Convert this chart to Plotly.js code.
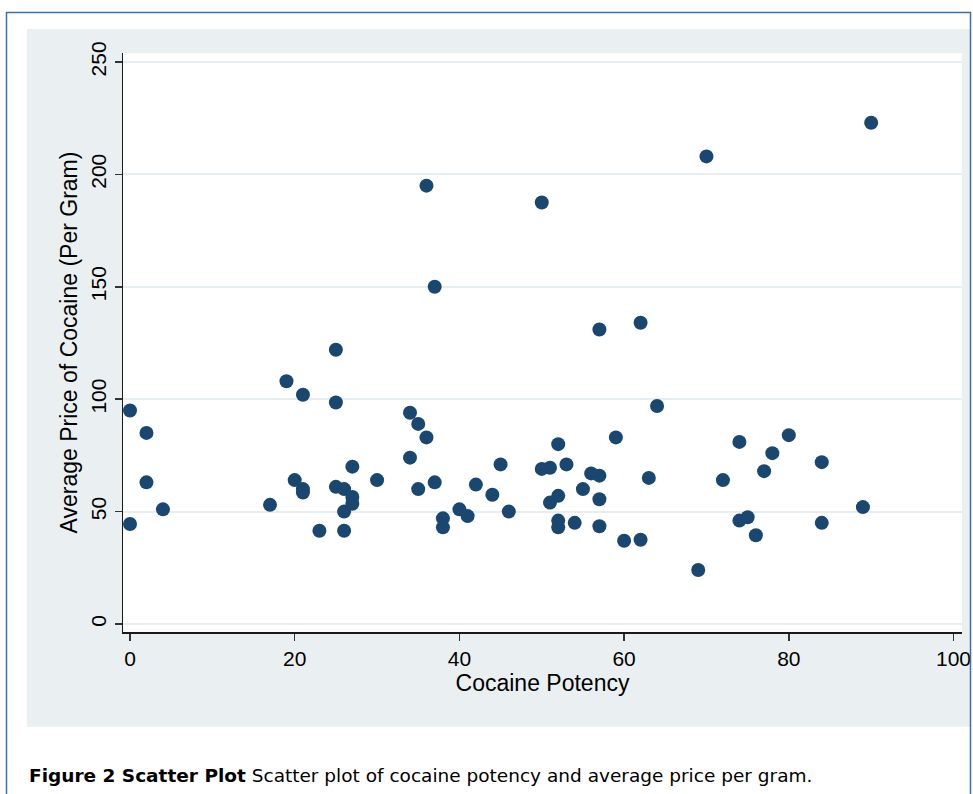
<!DOCTYPE html>
<html>
<head>
<meta charset="utf-8">
<script src="https://cdn.plot.ly/plotly-3.0.1.min.js"></script>
<style>
html,body{margin:0;padding:0;background:#ffffff;}
#chart{width:973px;height:794px;}
</style>
</head>
<body>
<div id="chart"></div>
<script>
// Cocaine potency (x) and average price per gram (y)
const potency = [0, 0, 2, 2, 4, 17, 19, 21, 25, 25, 20, 21, 21, 27, 30, 25, 26, 27, 27, 26, 23, 26,
  36, 50, 37, 57, 62, 70, 90, 34, 35, 36, 34, 35, 37, 38, 38, 40, 41, 42, 44, 45, 46, 50, 51, 52, 53,
  51, 52, 52, 52, 54, 55, 56, 57, 57, 57, 59, 60, 62, 64, 63, 69, 74, 72, 80, 78, 77, 84, 74, 75, 76, 84, 89];
const price = [95, 44.5, 85, 63, 51, 53, 108, 102, 122, 98.5, 64, 60, 58.5, 70, 64, 61, 60, 56.5, 53.5, 50, 41.5, 41.5,
  195, 187.5, 150, 131, 134, 208, 223, 94, 89, 83, 74, 60, 63, 47, 43, 51, 48, 62, 57.5, 71, 50, 69, 69.5, 80, 71,
  54, 57, 46, 43, 45, 60, 67, 66, 55.5, 43.5, 83, 37, 37.5, 97, 65, 24, 81, 64, 84, 76, 68, 72, 46, 47.5, 39.5, 45, 52];
const xTicks = [0, 20, 40, 60, 80, 100];
const yTicks = [0, 50, 100, 150, 200, 250];
const xTitle = "Cocaine Potency";
const yTitle = "Average Price of Cocaine (Per Gram)";
const caption = "<b>Figure 2 Scatter Plot</b> Scatter plot of cocaine potency and average price per gram.";

// plot area in pixels: x 123..962, y 53..632
const L = 123, R = 962, T = 53, B = 632;
const W = 973, H = 794;
const px = v => (v - L) / (R - L);
const py = v => (B - v) / (B - T);

const trace = {
  x: potency, y: price, type: 'scatter', mode: 'markers',
  marker: {color: '#1a476f', size: 14, line: {width: 0}},
  hoverinfo: 'x+y'
};

const font = {family: 'Liberation Sans, Arial, sans-serif', color: '#000000'};

const layout = {
  width: W, height: H,
  margin: {l: L, r: W - R, t: T, b: H - B, pad: 0},
  paper_bgcolor: '#ffffff',
  plot_bgcolor: '#ffffff',
  showlegend: false,
  font: font,
  xaxis: {
    range: [-0.85, 101.03], tickvals: xTicks, ticktext: xTicks.map(String),
    showgrid: false, zeroline: false,
    showline: true, linecolor: '#1a1a1a', linewidth: 1.5,
    ticks: 'outside', ticklen: 7, tickwidth: 1.5, tickcolor: '#333333',
    tickfont: {family: font.family, size: 21, color: '#000'},
    title: {text: xTitle, font: {family: font.family, size: 23, color: '#000'}, standoff: 5},
    automargin: false, fixedrange: true
  },
  yaxis: {
    range: [-3.56, 254.0], tickvals: yTicks, ticktext: yTicks.map(String),
    showgrid: true, gridcolor: '#e6eef1', gridwidth: 2, zeroline: false,
    showline: true, linecolor: '#1a1a1a', linewidth: 1.5,
    ticks: 'outside', ticklen: 7, tickwidth: 1.5, tickcolor: '#333333',
    tickangle: -90,
    tickfont: {family: font.family, size: 21, color: '#000'},
    title: {text: yTitle, font: {family: font.family, size: 23, color: '#000'}, standoff: 3},
    automargin: false, fixedrange: true
  },
  shapes: [
    {type: 'rect', xref: 'paper', yref: 'paper', layer: 'below',
     x0: px(27), x1: px(970), y0: py(727), y1: py(29),
     fillcolor: '#eaf0f2', line: {width: 0}},
    {type: 'rect', xref: 'paper', yref: 'paper', layer: 'below',
     x0: 0, x1: 1, y0: 0, y1: 1, fillcolor: '#ffffff', line: {width: 0}},
    {type: 'rect', xref: 'paper', yref: 'paper', layer: 'above',
     x0: px(971), x1: px(990), y0: py(820), y1: py(0),
     fillcolor: '#ffffff', line: {width: 0}},
    {type: 'rect', xref: 'paper', yref: 'paper', layer: 'above',
     x0: px(6.5), x1: px(970.5), y0: py(810), y1: py(12.5),
     fillcolor: 'rgba(0,0,0,0)', line: {color: '#3f6fa8', width: 1.5}}
  ],
  annotations: [
    {xref: 'paper', yref: 'paper', x: px(27), y: py(775), xanchor: 'left', yanchor: 'middle',
     showarrow: false, text: caption,
     font: {family: 'DejaVu Sans, sans-serif', size: 18.5, color: '#000'}}
  ]
};

Plotly.newPlot('chart', [trace], layout, {displayModeBar: false, staticPlot: true});
</script>
</body>
</html>
